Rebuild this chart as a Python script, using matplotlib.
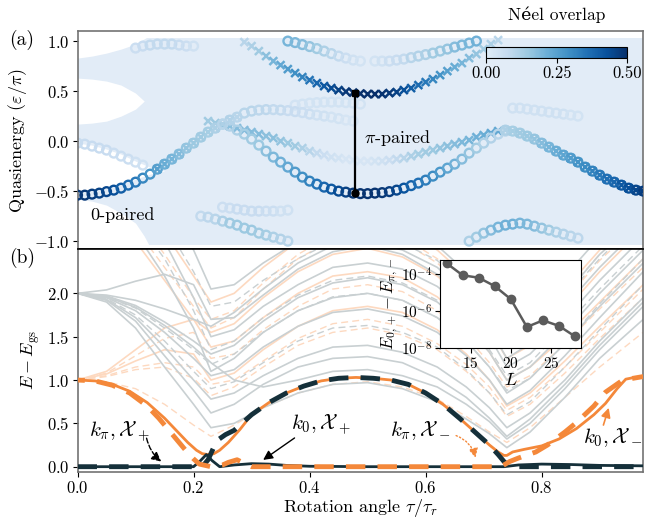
import numpy as np
import matplotlib
matplotlib.use("Agg")
import matplotlib.pyplot as plt
from matplotlib.colors import LinearSegmentedColormap, Normalize
from matplotlib.cm import ScalarMappable

plt.rcParams['font.family'] = ['cmr10', 'DejaVu Serif']
plt.rcParams['mathtext.fontset'] = 'cm'
plt.rcParams['axes.formatter.use_mathtext'] = True
plt.rcParams['axes.unicode_minus'] = True

# ---------------- panel (a): quasienergy spectrum ----------------
# sampling grid of the rotation angle (index i -> angle)
ang = np.round(np.arange(0, 0.9751, 0.0125), 4)

# (start index, quasienergies, Neel overlaps)
zero_paired_start = 0
zero_paired_q = [-0.54, -0.54, -0.53, -0.52, -0.505, -0.49, -0.47, -0.44, -0.41, -0.37,
                 -0.33, -0.28, -0.23, -0.18, -0.13, -0.07, -0.02, 0.04, 0.09, 0.13,
                 0.17, 0.21, 0.24, 0.28, 0.30, 0.31, 0.315, 0.315, 0.31, 0.305,
                 0.295, 0.285, 0.27, 0.26, 0.25, 0.24, 0.225, 0.21, 0.20]
zero_paired_ov = [0.48, 0.48, 0.47, 0.46, 0.45, 0.43, 0.40, 0.37, 0.34, 0.31,
                  0.28, 0.25, 0.22, 0.20, 0.18, 0.16, 0.15, 0.14, 0.13, 0.12,
                  0.12, 0.11, 0.10, 0.10, 0.10, 0.09, 0.09, 0.08, 0.08, 0.07,
                  0.07, 0.06, 0.06, 0.05, 0.05, 0.04, 0.04, 0.03, 0.03]

pi_low_start = 20
pi_low_q = [0.17, 0.15, 0.11, 0.07, 0.02, -0.04, -0.10, -0.16, -0.21, -0.26,
            -0.31, -0.36, -0.40, -0.43, -0.46, -0.48, -0.50, -0.51, -0.52, -0.525,
            -0.525, -0.52, -0.515, -0.505, -0.49, -0.47, -0.445, -0.42, -0.39, -0.35,
            -0.31, -0.27, -0.23, -0.18, -0.12, -0.07, -0.02, 0.03, 0.07, 0.10]
pi_low_ov = [0.10, 0.11, 0.12, 0.13, 0.14, 0.15, 0.17, 0.19, 0.21, 0.23,
             0.26, 0.29, 0.32, 0.35, 0.38, 0.41, 0.44, 0.46, 0.48, 0.49,
             0.49, 0.49, 0.48, 0.47, 0.45, 0.42, 0.39, 0.36, 0.33, 0.30,
             0.27, 0.24, 0.21, 0.18, 0.16, 0.14, 0.12, 0.11, 0.10, 0.10]

right_start = 59
right_q = [0.11, 0.10, 0.08, 0.05, 0.02, -0.02, -0.06, -0.10, -0.14, -0.17,
           -0.21, -0.26, -0.30, -0.34, -0.38, -0.41, -0.44, -0.47, -0.49, -0.50]
right_ov = [0.12, 0.13, 0.14, 0.15, 0.16, 0.18, 0.20, 0.22, 0.24, 0.26,
            0.28, 0.30, 0.32, 0.34, 0.36, 0.38, 0.41, 0.43, 0.45, 0.47]

pi_up_start = 23
pi_up_q = [0.99, 0.95, 0.90, 0.85, 0.80, 0.76, 0.72, 0.68, 0.64, 0.61,
           0.58, 0.55, 0.53, 0.51, 0.495, 0.485, 0.475, 0.47, 0.47, 0.47,
           0.48, 0.49, 0.51, 0.53, 0.56, 0.59, 0.62, 0.66, 0.70, 0.74,
           0.78, 0.83, 0.87, 0.92, 0.97, 1.01]
pi_up_ov = [0.10, 0.12, 0.14, 0.17, 0.20, 0.23, 0.26, 0.29, 0.32, 0.35,
            0.38, 0.41, 0.44, 0.46, 0.48, 0.49, 0.50, 0.50, 0.50, 0.49,
            0.48, 0.46, 0.43, 0.40, 0.37, 0.34, 0.31, 0.28, 0.25, 0.22,
            0.20, 0.18, 0.16, 0.14, 0.12, 0.10]

mid_x_start = 18
mid_x_q = [0.20, 0.18, 0.16, 0.15, 0.13, 0.11, 0.09, 0.07, 0.05, 0.03,
           0.00, -0.02, -0.05, -0.07, -0.10, -0.12, -0.14, -0.16, -0.17, -0.18,
           -0.19, -0.20, -0.20, -0.20, -0.20, -0.19, -0.18, -0.17, -0.15, -0.13,
           -0.11, -0.09, -0.07, -0.05, -0.03, -0.01, 0.01, 0.04, 0.06, 0.08, 0.10]
mid_x_ov = [0.14, 0.15, 0.16, 0.17, 0.18, 0.18, 0.18, 0.18, 0.17, 0.17,
            0.16, 0.15, 0.14, 0.12, 0.10, 0.08, 0.06, 0.05, 0.04, 0.03,
            0.03, 0.03, 0.03, 0.04, 0.05, 0.06, 0.08, 0.10, 0.12, 0.13,
            0.14, 0.15, 0.16, 0.17, 0.18, 0.19, 0.20, 0.21, 0.22, 0.23, 0.23]

top_l_start = 29
top_l_q = [1.0, 0.985, 0.965, 0.945, 0.925, 0.90, 0.875, 0.85, 0.83, 0.81, 0.80]
top_l_ov = [0.20, 0.19, 0.18, 0.16, 0.14, 0.12, 0.10, 0.08, 0.06, 0.05, 0.04]

top_r_start = 41
top_r_q = [0.80, 0.80, 0.80, 0.81, 0.82, 0.835, 0.85, 0.865, 0.88, 0.90,
           0.92, 0.94, 0.96, 0.98, 1.0]
top_r_ov = [0.04, 0.05, 0.06, 0.07, 0.08, 0.10, 0.11, 0.12, 0.14, 0.15,
            0.16, 0.18, 0.19, 0.20, 0.21]

bot_l_start = 17
bot_l_q = [-0.75, -0.76, -0.78, -0.80, -0.82, -0.84, -0.87, -0.89, -0.92, -0.94,
           -0.96, -0.98, -1.0]
bot_l_ov = [0.08, 0.09, 0.10, 0.12, 0.14, 0.15, 0.15, 0.15, 0.14, 0.13,
            0.12, 0.11, 0.10]

bot_r_start = 54
bot_r_q = [-1.0, -0.96, -0.92, -0.89, -0.86, -0.84, -0.83, -0.82, -0.83, -0.85,
           -0.87, -0.89, -0.91, -0.93, -0.95, -0.97]
bot_r_ov = [0.12, 0.14, 0.16, 0.18, 0.20, 0.21, 0.21, 0.20, 0.19, 0.18,
            0.16, 0.14, 0.12, 0.11, 0.10, 0.09]

faint_start = 0
faint_q = [-0.02, -0.03, -0.05, -0.07, -0.09, -0.12, -0.15, -0.18, -0.21, -0.24]
faint_ov = [0.07, 0.07, 0.07, 0.07, 0.07, 0.06, 0.06, 0.06, 0.05, 0.05]

# faint states that give the bulk its texture
tex1_start = 8
tex1_q = [0.93, 0.95, 0.96, 0.97, 0.97, 0.97, 0.96, 0.95, 0.95]
tex1_ov = [0.06, 0.07, 0.08, 0.08, 0.08, 0.08, 0.07, 0.06, 0.05]
tex2_start = 30
tex2_q = [0.36, 0.37, 0.38, 0.385, 0.39, 0.39, 0.39, 0.385, 0.38, 0.37]
tex2_ov = [0.04, 0.04, 0.04, 0.04, 0.04, 0.04, 0.04, 0.04, 0.04, 0.04]
tex3_start = 60
tex3_q = [0.33, 0.33, 0.32, 0.31, 0.30, 0.29, 0.28, 0.27, 0.26, 0.25]
tex3_ov = [0.05, 0.05, 0.05, 0.05, 0.05, 0.05, 0.05, 0.05, 0.04, 0.04]
tex4_start = 20
tex4_q = [-0.66, -0.67, -0.68, -0.69, -0.70, -0.70, -0.70, -0.70, -0.70, -0.69]
tex4_ov = [0.06, 0.06, 0.07, 0.07, 0.07, 0.07, 0.06, 0.06, 0.05, 0.05]

# white gaps in the bulk of the spectrum (small angles)
gap1_ang = [0.0, 0.025, 0.05, 0.075, 0.1, 0.115]
gap1_top = [0.63, 0.62, 0.60, 0.56, 0.48, 0.40]
gap1_bot = [0.17, 0.18, 0.20, 0.25, 0.32, 0.40]
gap2_ang = [0.0, 0.025, 0.05, 0.075, 0.1, 0.125, 0.15]
gap2_top = [-0.02, -0.04, -0.08, -0.13, -0.20, -0.26, -0.30]
gap2_bot = [-0.50, -0.49, -0.47, -0.43, -0.38, -0.33, -0.30]
gap3_ang = [0.0, 0.025, 0.05, 0.075, 0.1, 0.115, 0.125]
gap3_top = [-0.58, -0.60, -0.64, -0.72, -0.82, -0.95, -1.06]
gap4_ang = [0.0, 0.025, 0.05, 0.075, 0.1, 0.12]
gap4_bot = [0.83, 0.85, 0.88, 0.92, 0.97, 1.04]

pair_angle = 0.478
pair_q = [0.48, -0.52]

# ---------------- panel (b): energies ----------------
os_a = [0, 0.03, 0.06, 0.09, 0.12, 0.15, 0.17, 0.19, 0.205, 0.215, 0.225, 0.235, 0.245,
        0.26, 0.28, 0.3, 0.33, 0.36, 0.39, 0.42, 0.45, 0.48, 0.51, 0.54, 0.57, 0.6,
        0.63, 0.66, 0.69, 0.71, 0.725, 0.735, 0.74, 0.75, 0.77, 0.8, 0.83, 0.86,
        0.89, 0.91, 0.93, 0.945, 0.96, 0.975]
os_E = [1.0, 0.99, 0.95, 0.87, 0.74, 0.56, 0.42, 0.28, 0.19, 0.15, 0.14, 0.15, 0.19,
        0.28, 0.43, 0.60, 0.74, 0.85, 0.93, 0.99, 1.02, 1.03, 1.02, 1.0, 0.95, 0.85,
        0.72, 0.55, 0.37, 0.25, 0.17, 0.13, 0.13, 0.17, 0.2, 0.24, 0.32, 0.44,
        0.6, 0.73, 0.9, 1.01, 1.03, 1.03]

od_a = [0, 0.03, 0.06, 0.09, 0.12, 0.14, 0.16, 0.18, 0.19, 0.2, 0.21, 0.23, 0.25,
        0.26, 0.275, 0.29, 0.3, 0.4, 0.5, 0.6, 0.7, 0.73, 0.745, 0.76, 0.79, 0.81,
        0.84, 0.86, 0.89, 0.91, 0.94, 0.975]
od_E = [1.0, 0.99, 0.94, 0.85, 0.7, 0.56, 0.4, 0.24, 0.16, 0.09, 0.03, 0.0, 0.02,
        0.05, 0.08, 0.03, 0.0, 0.0, 0.0, 0.0, 0.0, 0.0, 0.06, 0.1, 0.17, 0.25,
        0.4, 0.51, 0.7, 0.86, 1.0, 1.04]

dd_a = [0, 0.1, 0.2, 0.215, 0.225, 0.24, 0.255, 0.27, 0.3, 0.33, 0.36, 0.39, 0.42,
        0.45, 0.48, 0.51, 0.54, 0.57, 0.6, 0.63, 0.66, 0.69, 0.71, 0.725, 0.735,
        0.745, 0.8, 0.9, 0.975]
dd_E = [0.0, 0.0, 0.0, 0.0, 0.08, 0.3, 0.37, 0.42, 0.6, 0.74, 0.85, 0.93, 0.99,
        1.02, 1.03, 1.02, 1.0, 0.95, 0.85, 0.72, 0.55, 0.37, 0.25, 0.14, 0.06,
        0.0, 0.0, 0.0, 0.0]

ds_a = [0, 0.2, 0.212, 0.222, 0.232, 0.245, 0.27, 0.3, 0.33, 0.36, 0.4, 0.5, 0.6,
        0.7, 0.735, 0.76, 0.8, 0.85, 0.9, 0.975]
ds_E = [0.0, 0.0, 0.07, 0.14, 0.07, 0.0, 0.02, 0.035, 0.03, 0.015, 0.005, 0.0, 0.0,
        0.0, 0.0, 0.02, 0.03, 0.025, 0.015, 0.01]

# background levels
bg_a = [0.0, 0.05, 0.1, 0.15, 0.2, 0.23, 0.27, 0.32, 0.38, 0.44, 0.5, 0.56, 0.62,
        0.67, 0.71, 0.74, 0.78, 0.84, 0.9, 0.975]
grey_solid = [
    [2.0, 1.9, 1.6, 1.15, 0.72, 0.45, 0.5, 0.68, 0.85, 0.95, 0.97, 0.9, 0.75, 0.55, 0.38, 0.22, 0.4, 0.8, 1.25, 1.7],
    [2.0, 1.92, 1.68, 1.28, 0.88, 0.62, 0.72, 0.95, 1.15, 1.25, 1.27, 1.2, 1.02, 0.8, 0.56, 0.35, 0.55, 0.95, 1.4, 1.9],
    [2.0, 1.93, 1.72, 1.38, 1.0, 0.78, 0.85, 1.05, 1.25, 1.38, 1.4, 1.32, 1.15, 0.92, 0.68, 0.45, 0.62, 1.0, 1.45, 1.95],
    [2.0, 1.95, 1.8, 1.55, 1.25, 1.05, 1.12, 1.38, 1.62, 1.78, 1.82, 1.74, 1.55, 1.28, 1.0, 0.72, 0.88, 1.28, 1.72, 2.25],
    [2.0, 1.97, 1.86, 1.67, 1.45, 1.3, 1.4, 1.68, 1.95, 2.12, 2.18, 2.1, 1.9, 1.62, 1.32, 1.0, 1.15, 1.55, 2.0, 2.5],
    [2.0, 1.98, 1.92, 1.82, 1.7, 1.62, 1.78, 2.05, 2.35, 2.55, 2.6, 2.5, 2.3, 2.0, 1.7, 1.38, 1.55, 1.98, 2.45, 2.9],
    [2.0, 2.04, 2.14, 2.22, 2.1, 1.7, 1.72, 1.98, 2.28, 2.48, 2.55, 2.45, 2.22, 1.92, 1.6, 1.25, 1.42, 1.85, 2.3, 2.8],
    [3.0, 2.95, 2.7, 2.2, 1.6, 1.1, 1.25, 1.55, 1.8, 1.95, 2.0, 1.92, 1.72, 1.45, 1.15, 0.85, 1.02, 1.42, 1.85, 2.35],
    [3.0, 3.0, 3.0, 2.6, 1.95, 1.5, 1.58, 1.85, 2.1, 2.3, 2.35, 2.28, 2.08, 1.8, 1.5, 1.15, 1.3, 1.7, 2.15, 2.65],
    [3.0, 3.0, 3.0, 3.0, 2.5, 2.05, 2.1, 2.35, 2.6, 2.8, 2.9, 2.8, 2.55, 2.25, 1.9, 1.6, 1.75, 2.2, 2.65, 3.0],
    [2.0, 1.96, 1.84, 1.63, 1.38, 1.2, 1.0, 0.92, 1.0, 1.1, 1.12, 1.05, 0.92, 0.72, 0.52, 0.32, 0.5, 0.9, 1.35, 1.85],
]
grey_dashed = [
    [2.0, 1.94, 1.75, 1.45, 1.1, 0.9, 0.98, 1.2, 1.45, 1.6, 1.63, 1.55, 1.38, 1.12, 0.85, 0.6, 0.75, 1.15, 1.58, 2.1],
    [2.0, 1.96, 1.83, 1.6, 1.35, 1.18, 1.3, 1.55, 1.8, 1.96, 2.0, 1.92, 1.72, 1.45, 1.15, 0.88, 1.02, 1.42, 1.88, 2.4],
    [3.0, 3.0, 2.85, 2.4, 1.8, 1.35, 1.45, 1.72, 1.98, 2.15, 2.2, 2.12, 1.92, 1.65, 1.35, 1.05, 1.2, 1.62, 2.05, 2.55],
    [3.0, 3.0, 3.0, 2.8, 2.25, 1.85, 1.9, 2.15, 2.4, 2.6, 2.65, 2.58, 2.38, 2.08, 1.75, 1.4, 1.55, 1.95, 2.4, 2.9],
]
orange_solid_bg = [
    [1.0, 1.07, 1.22, 1.35, 1.3, 1.0, 1.08, 1.35, 1.62, 1.8, 1.85, 1.78, 1.58, 1.3, 1.0, 0.7, 0.85, 1.22, 1.62, 2.1],
    [1.0, 1.1, 1.35, 1.6, 1.7, 1.38, 1.45, 1.72, 2.0, 2.2, 2.25, 2.18, 1.96, 1.65, 1.32, 1.0, 1.15, 1.5, 1.9, 2.4],
    [3.0, 2.9, 2.6, 2.15, 1.7, 1.55, 1.65, 1.95, 2.25, 2.45, 2.52, 2.42, 2.2, 1.9, 1.58, 1.25, 1.4, 1.8, 2.25, 2.75],
    [3.0, 3.0, 3.0, 2.7, 2.2, 1.9, 2.0, 2.3, 2.6, 2.8, 2.85, 2.75, 2.5, 2.2, 1.85, 1.5, 1.65, 2.05, 2.5, 3.0],
]
orange_dashed_bg = [
    [1.0, 0.98, 0.9, 0.72, 0.48, 0.35, 0.48, 0.68, 0.85, 0.95, 0.98, 0.92, 0.78, 0.58, 0.4, 0.28, 0.45, 0.8, 1.15, 1.55],
    [1.0, 1.04, 1.12, 1.15, 1.02, 0.82, 0.92, 1.15, 1.4, 1.55, 1.6, 1.52, 1.35, 1.1, 0.85, 0.58, 0.72, 1.08, 1.48, 1.95],
    [1.0, 1.05, 1.15, 1.2, 1.15, 0.95, 1.0, 1.22, 1.48, 1.65, 1.7, 1.62, 1.42, 1.18, 0.92, 0.65, 0.8, 1.15, 1.55, 2.05],
    [1.0, 1.08, 1.28, 1.48, 1.55, 1.25, 1.3, 1.58, 1.85, 2.05, 2.1, 2.02, 1.8, 1.5, 1.2, 0.92, 1.05, 1.42, 1.82, 2.3],
    [3.0, 3.0, 2.75, 2.3, 1.85, 1.6, 1.72, 2.05, 2.4, 2.62, 2.7, 2.6, 2.35, 2.05, 1.72, 1.38, 1.52, 1.92, 2.38, 2.85],
    [3.0, 3.0, 2.9, 2.45, 1.95, 1.7, 1.8, 2.12, 2.45, 2.68, 2.75, 2.65, 2.4, 2.1, 1.78, 1.45, 1.6, 2.0, 2.45, 2.9],
]

# inset: splitting vs system size
L_vals = [12, 14, 16, 18, 20, 22, 24, 26, 28]
split_vals = [4.0e-4, 8.9e-5, 6.6e-5, 2.3e-5, 4.5e-6, 1.4e-7, 3.2e-7, 1.6e-7, 4.3e-8]

# ---------------- drawing ----------------
cmap = LinearSegmentedColormap.from_list('nb', plt.cm.Blues(np.linspace(0.12, 1.0, 256)))
norm = Normalize(0, 0.5)
ORANGE = '#f4883a'
DARK = '#15303a'
GREY = '#c9d0d2'
LORANGE = '#fdd9c0'

fig = plt.figure(figsize=(6.57, 5.18), dpi=100)
ax1 = fig.add_axes([0.118, 0.519, 0.861, 0.421])
ax2 = fig.add_axes([0.118, 0.089, 0.861, 0.430], sharex=ax1)

# bulk of the spectrum
ax1.fill_between([0, 0.975], -1.035, 1.035, color='#e2ecf7', lw=0, zorder=0)
ax1.fill_between(gap1_ang, gap1_bot, gap1_top, color='white', lw=0, zorder=0.5)
ax1.fill_between(gap2_ang, gap2_bot, gap2_top, color='white', lw=0, zorder=0.5)
ax1.fill_between(gap3_ang, -1.1, gap3_top, color='white', lw=0, zorder=0.5)
ax1.fill_between(gap4_ang, gap4_bot, 1.1, color='white', lw=0, zorder=0.5)


def draw(start, q, ov, marker, z):
    x = ang[start:start + len(q)]
    cols = cmap(norm(np.array(ov)))
    if marker == 'o':
        ax1.scatter(x, q, s=40, facecolors='none', edgecolors=cols, linewidths=1.7, zorder=z)
    else:
        ax1.scatter(x, q, s=32, marker='x', c=cols, linewidths=1.8, zorder=z)


for st, q, ov in [(tex1_start, tex1_q, tex1_ov), (tex2_start, tex2_q, tex2_ov),
                  (tex3_start, tex3_q, tex3_ov), (tex4_start, tex4_q, tex4_ov)]:
    draw(st, q, ov, 'o', 0.8)
draw(faint_start, faint_q, faint_ov, 'o', 1)
draw(top_l_start, top_l_q, top_l_ov, 'o', 1)
draw(top_r_start, top_r_q, top_r_ov, 'o', 1)
draw(bot_l_start, bot_l_q, bot_l_ov, 'o', 1)
draw(bot_r_start, bot_r_q, bot_r_ov, 'o', 1)
draw(mid_x_start, mid_x_q, mid_x_ov, 'x', 2)
draw(zero_paired_start, zero_paired_q, zero_paired_ov, 'o', 3)
draw(11, zero_paired_q[11:23], zero_paired_ov[11:23], 'x', 3)
draw(pi_low_start, pi_low_q, pi_low_ov, 'o', 4)
draw(right_start, right_q, right_ov, 'o', 4)
draw(right_start, right_q, right_ov, 'x', 4)
draw(pi_up_start, pi_up_q, pi_up_ov, 'x', 4)

ax1.plot([pair_angle, pair_angle], pair_q, color='k', lw=1.6, zorder=6)
ax1.plot([pair_angle], [pair_q[0]], 's', color='k', ms=5, zorder=7)
ax1.plot([pair_angle], [pair_q[1]], 'o', color='k', ms=5, zorder=7)
ax1.text(0.078, -0.74, '0-paired', fontsize=13, ha='center', va='center', zorder=8)
ax1.text(0.552, 0.03, r'$\pi$-paired', fontsize=13, ha='center', va='center', zorder=8)

ax1.set_ylim(-1.08, 1.1)
ax1.set_yticks([-1.0, -0.5, 0.0, 0.5, 1.0])
ax1.set_ylabel(r'Quasienergy $(\varepsilon/\pi)$', fontsize=13, labelpad=4)
ax1.tick_params(axis='x', bottom=False, labelbottom=False)
ax1.tick_params(axis='y', labelsize=12, pad=2)

# colorbar
cax = fig.add_axes([0.740, 0.888, 0.215, 0.021])
cb = fig.colorbar(ScalarMappable(norm=norm, cmap=cmap), cax=cax, orientation='horizontal')
cb.set_ticks([0.0, 0.25, 0.5])
cb.set_ticklabels(['0.00', '0.25', '0.50'])
cax.tick_params(labelsize=12, pad=2)
fig.text(0.848, 0.971, 'Néel overlap', fontsize=12.5, ha='center', va='center')

# panel (b)
for row in orange_solid_bg:
    ax2.plot(bg_a, row, color=LORANGE, lw=1.2, zorder=0.9)
for row in orange_dashed_bg:
    ax2.plot(bg_a, row, color=LORANGE, lw=1.0, ls=(0, (5, 3)), zorder=0.9)
for row in grey_solid:
    ax2.plot(bg_a, row, color=GREY, lw=1.2, zorder=1)
for row in grey_dashed:
    ax2.plot(bg_a, row, color=GREY, lw=1.0, ls=(0, (5, 3)), zorder=1)

ax2.plot(os_a, os_E, color=ORANGE, lw=2.0, zorder=3)
ax2.plot(ds_a, ds_E, color=DARK, lw=2.0, zorder=3)
ax2.plot(dd_a, dd_E, color=DARK, lw=3.5, ls=(0, (4, 2.5)), zorder=4)
ax2.plot(od_a, od_E, color=ORANGE, lw=3.5, ls=(2.5, (4, 2.5)), zorder=5)

ax2.text(0.072, 0.40, r'$k_\pi, \mathcal{X}_+$', fontsize=15, ha='center', va='center')
ax2.annotate('', xy=(0.148, 0.04), xytext=(0.118, 0.36),
             arrowprops=dict(arrowstyle='-|>', color='k', lw=1.0, ls='--',
                             connectionstyle='arc3,rad=0.2', mutation_scale=14))
ax2.text(0.42, 0.49, r'$k_0, \mathcal{X}_+$', fontsize=15, ha='center', va='center')
ax2.annotate('', xy=(0.316, 0.06), xytext=(0.378, 0.35),
             arrowprops=dict(arrowstyle='-|>', color='k', lw=1.0, mutation_scale=14))
ax2.text(0.59, 0.42, r'$k_\pi, \mathcal{X}_-$', fontsize=15, ha='center', va='center')
ax2.annotate('', xy=(0.687, 0.07), xytext=(0.648, 0.37),
             arrowprops=dict(arrowstyle='-|>', color=ORANGE, lw=1.0, ls=':',
                             connectionstyle='arc3,rad=-0.3', mutation_scale=14))
ax2.text(0.922, 0.335, r'$k_0, \mathcal{X}_-$', fontsize=15, ha='center', va='center')
ax2.annotate('', xy=(0.917, 0.71), xytext=(0.905, 0.45),
             arrowprops=dict(arrowstyle='-|>', color=ORANGE, lw=1.2, mutation_scale=14))

ax2.set_xlim(0, 0.975)
ax2.set_ylim(-0.06, 2.51)
ax2.set_yticks([0.0, 0.5, 1.0, 1.5, 2.0])
ax2.set_xticks([0.0, 0.2, 0.4, 0.6, 0.8])
ax2.tick_params(labelsize=12, pad=2)
ax2.set_ylabel(r'$E-E_{\rm gs}$', fontsize=13, labelpad=4)
ax2.set_xlabel(r'Rotation angle $\tau/\tau_r$', fontsize=13, labelpad=1)

for a in (ax1, ax2):
    for s in ('left', 'right', 'top', 'bottom'):
        a.spines[s].set_color('0.45')
        a.spines[s].set_linewidth(1.2)
ax1.spines['bottom'].set_color('k')
ax2.spines['top'].set_color('k')

# inset
axi = fig.add_axes([0.670, 0.328, 0.215, 0.170])
axi.semilogy(L_vals, split_vals, '-o', color='#5b5b5b', lw=1.8, ms=6)
axi.set_xlim(11.2, 28.8)
axi.set_ylim(1e-8, 6e-4)
axi.set_yticks([1e-8, 1e-6, 1e-4])
axi.minorticks_off()
axi.set_xticks([15, 20, 25])
axi.tick_params(labelsize=11, pad=2)
axi.set_xlabel(r'$L$', fontsize=13, labelpad=1)
axi.set_ylabel(r'$E_{0,+}-E_{\pi,-}$', fontsize=12, labelpad=1)

fig.text(0.033, 0.923, '(a)', fontsize=14, ha='center', va='center')
fig.text(0.033, 0.502, '(b)', fontsize=14, ha='center', va='center')

fig.savefig('out.png', dpi=100)
